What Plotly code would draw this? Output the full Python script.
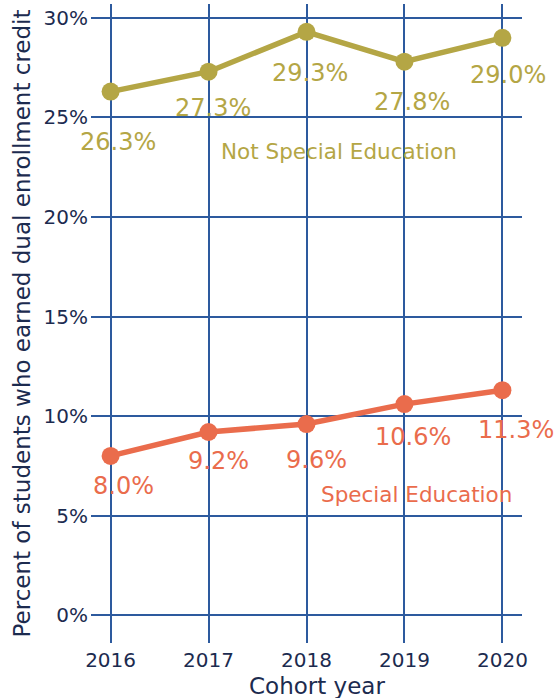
import plotly.graph_objects as go

years = [2016, 2017, 2018, 2019, 2020]
not_sped = [26.3, 27.3, 29.3, 27.8, 29.0]
sped = [8.0, 9.2, 9.6, 10.6, 11.3]
y_ticks = [0, 5, 10, 15, 20, 25, 30]
y_tick_labels = ["0%", "5%", "10%", "15%", "20%", "25%", "30%"]
series_names = ["Not Special Education", "Special Education"]
x_title = "Cohort year"
y_title = "Percent of students who earned dual enrollment credit"

OLIVE = "#b4a645"
CORAL = "#ea6c4c"
NAVY = "#1c2b4f"
GRID = "#2d5a9e"
FONT = "DejaVu Sans"

# label offsets (px) relative to each point (style only)
ns_shift = [(7, -50), (4, -36), (3, -41), (8, -40), (6, -37)]
s_shift = [(13, -30), (10, -29), (10, -36), (9, -33), (14, -40)]

fig = go.Figure()
for vals, color, name in [(not_sped, OLIVE, series_names[0]), (sped, CORAL, series_names[1])]:
    fig.add_trace(go.Scatter(
        x=years, y=vals, mode="lines+markers", name=name,
        line=dict(color=color, width=5.5),
        marker=dict(color=color, size=18),
        showlegend=False,
    ))

annotations = []
for vals, color, shifts in [(not_sped, OLIVE, ns_shift), (sped, CORAL, s_shift)]:
    for x, v, (dx, dy) in zip(years, vals, shifts):
        annotations.append(dict(
            x=x, y=v, text=f"{v:.1f}%", showarrow=False,
            xshift=dx, yshift=dy,
            font=dict(family=FONT, size=24, color=color),
        ))

annotations.append(dict(x=2018.33, y=23.3, text=series_names[0], showarrow=False,
                        font=dict(family=FONT, size=21.5, color=OLIVE)))
annotations.append(dict(x=2019.12, y=6.05, text=series_names[1], showarrow=False,
                        font=dict(family=FONT, size=21.5, color=CORAL)))
annotations.append(dict(xref="paper", yref="paper", x=0.524, y=-0.067, text=x_title,
                        showarrow=False, xanchor="center", yanchor="middle",
                        font=dict(family=FONT, size=23, color=NAVY)))

fig.update_layout(
    width=555, height=698,
    margin=dict(l=91, r=33, t=4, b=55),
    paper_bgcolor="white", plot_bgcolor="white",
    annotations=annotations,
    font=dict(family=FONT, color=NAVY),
    xaxis=dict(
        range=[2015.8, 2020.2], tickvals=years, ticktext=[str(y) for y in years],
        showgrid=True, gridcolor=GRID, gridwidth=1.5, zeroline=False,
        tickfont=dict(family=FONT, size=20, color=NAVY), ticks="",
        ticklabelstandoff=3,
        automargin=False,
    ),
    yaxis=dict(
        range=[-1.4, 30.7], tickvals=y_ticks, ticktext=y_tick_labels,
        showgrid=True, gridcolor=GRID, gridwidth=1.5, zeroline=False,
        tickfont=dict(family=FONT, size=20, color=NAVY), ticks="",
        ticklabelstandoff=2,
        automargin=False,
        title=dict(text=y_title, font=dict(family=FONT, size=23, color=NAVY), standoff=6),
    ),
)

fig.write_html("out.html", config={"displayModeBar": False},
               post_script="document.body.style.margin='0';")
